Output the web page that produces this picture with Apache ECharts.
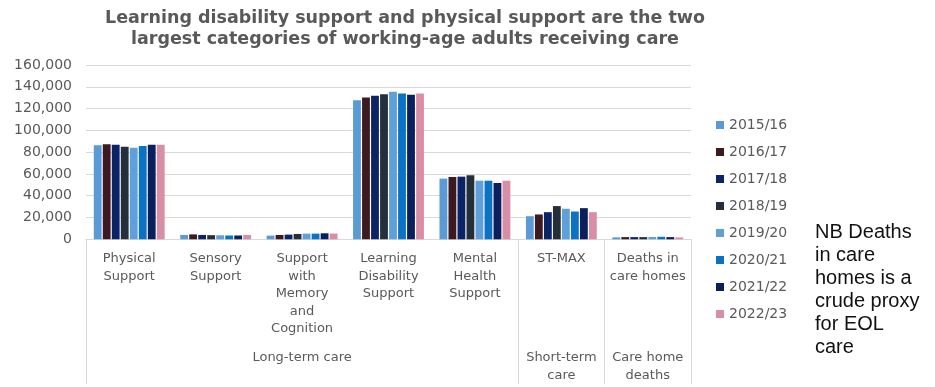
<!DOCTYPE html>
<html>
<head>
<meta charset="utf-8">
<script src="https://cdn.jsdelivr.net/npm/echarts@6/dist/echarts.min.js"></script>
<style>html,body{margin:0;padding:0;background:#fff}#c{width:935px;height:387px}</style>
</head>
<body>
<div id="c"></div>
<script>
const categories = ['Physical\nSupport', 'Sensory\nSupport', 'Support\nwith\nMemory\nand\nCognition', 'Learning\nDisability\nSupport', 'Mental\nHealth\nSupport', 'ST-MAX', 'Deaths in\ncare homes'];
const groupLabels = ['', '', 'Long-term care', '', '', 'Short-term\ncare', 'Care home\ndeaths'];
const years = ['2015/16', '2016/17', '2017/18', '2018/19', '2019/20', '2020/21', '2021/22', '2022/23'];
const v2015 = [86300, 4000, 3400, 127700, 55700, 21200, 1800];
const v2016 = [87200, 4500, 4000, 130200, 57200, 22800, 2000];
const v2017 = [86900, 4000, 4300, 131700, 57500, 24900, 2000];
const v2018 = [85000, 3800, 4900, 133200, 58800, 30500, 2000];
const v2019 = [84100, 3700, 5200, 135400, 53800, 28000, 2100];
const v2020 = [85700, 3500, 5200, 133800, 53800, 25500, 2300];
const v2021 = [86900, 3500, 5500, 132600, 51700, 28600, 2000];
const v2022 = [86900, 4000, 5300, 133800, 53800, 24900, 1700];
const yTicks = [0, 20000, 40000, 60000, 80000, 100000, 120000, 140000, 160000];

const values = [v2015, v2016, v2017, v2018, v2019, v2020, v2021, v2022];
const colors = ['#5B9BD5', '#3D1A20', '#0B2468', '#252F39', '#5FA0DA', '#0C72C4', '#0A1F5C', '#D88FA5'];
const font = 'DejaVu Sans';
const grey = '#595959';

const chart = echarts.init(document.getElementById('c'), null, {renderer: 'canvas'});
chart.setOption({
  animation: false,
  color: colors,
  title: {
    text: 'Learning disability support and physical support are the two\nlargest categories of working-age adults receiving care',
    left: 405, top: 8, padding: 0, textAlign: 'center',
    textStyle: {fontFamily: font, fontWeight: 'bold', fontSize: 17.5, lineHeight: 21, color: grey}
  },
  legend: {
    orient: 'vertical', left: 716, top: 118, padding: 0, itemWidth: 8, itemHeight: 8, itemGap: 13,
    icon: 'rect', data: years,
    textStyle: {fontFamily: font, fontSize: 14, lineHeight: 14, color: grey}
  },
  grid: {left: 86, right: 244, top: 65, bottom: 147.7, containLabel: false},
  xAxis: [{
    type: 'category', data: categories, position: 'bottom',
    axisLine: {show: true, lineStyle: {color: '#D9D9D9', width: 1}},
    axisTick: {show: false},
    axisLabel: {interval: 0, fontFamily: font, fontSize: 13, lineHeight: 17.5, color: grey, margin: 11}
  }, {
    type: 'category', data: groupLabels, position: 'bottom', offset: 0,
    axisLine: {show: false},
    axisTick: {show: true, length: 145, inside: false,
      interval: function (i) { return i === 0 || i === 5 || i === 6 || i === 7; },
      lineStyle: {color: '#D9D9D9', width: 1}},
    axisLabel: {interval: 0, fontFamily: font, fontSize: 13, lineHeight: 17.5, color: grey, margin: 110}
  }],
  yAxis: {
    type: 'value', min: yTicks[0], max: yTicks[yTicks.length - 1], interval: yTicks[1] - yTicks[0],
    axisLine: {show: false}, axisTick: {show: false},
    splitLine: {lineStyle: {color: '#D9D9D9', width: 1}},
    axisLabel: {fontFamily: font, fontSize: 14, color: grey, margin: 14,
      formatter: function (v) { return v.toLocaleString('en-US'); }}
  },
  graphic: [{
    type: 'text', left: 815, top: 221,
    style: {text: 'NB Deaths\nin care\nhomes is a\ncrude proxy\nfor EOL\ncare', fontFamily: 'Liberation Sans', fontSize: 20, lineHeight: 23, fill: '#111'}
  }],
  series: years.map(function (y, i) {
    return {name: y, type: 'bar', xAxisIndex: 0, data: values[i], barGap: '15%', barCategoryGap: '18%'};
  })
});
</script>
</body>
</html>
